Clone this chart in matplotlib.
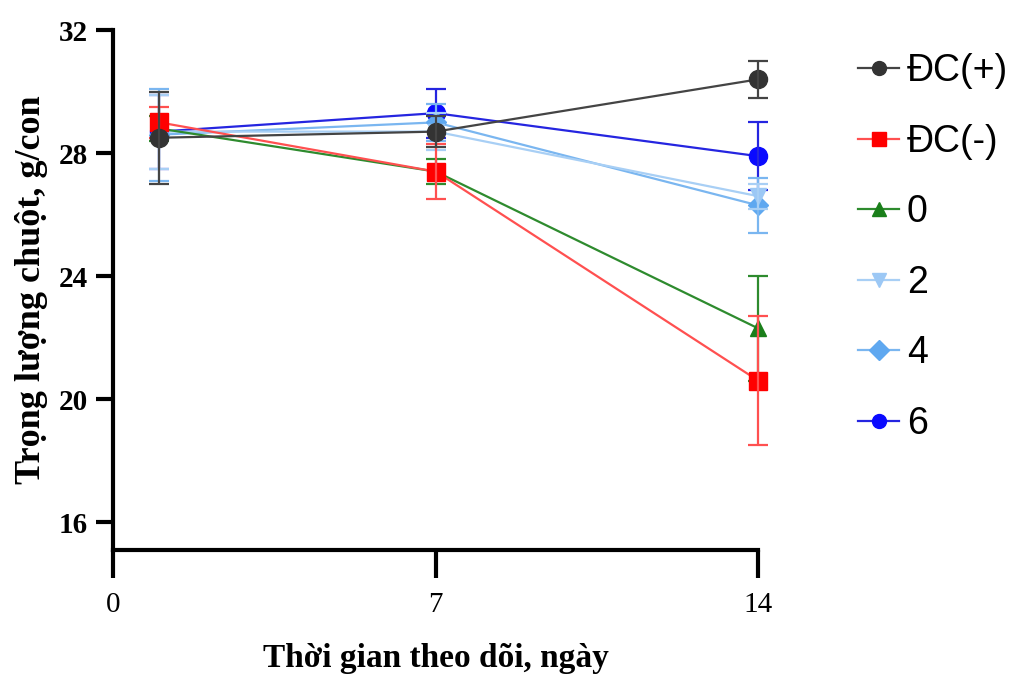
import numpy as np
import matplotlib.pyplot as plt

days = [1, 7, 14]
labels = ['ĐC(+)', 'ĐC(-)', '0', '2', '4', '6']
means = {
    'ĐC(+)': [28.5, 28.7, 30.4],
    'ĐC(-)': [29.0, 27.4, 20.6],
    '0':     [28.8, 27.4, 22.3],
    '2':     [28.7, 28.7, 26.6],
    '4':     [28.6, 29.0, 26.3],
    '6':     [28.7, 29.3, 27.9],
}
errors = {
    'ĐC(+)': [1.5, 0.5, 0.6],
    'ĐC(-)': [0.5, 0.9, 2.1],
    '0':     [0.4, 0.4, 1.7],
    '2':     [1.2, 0.6, 0.4],
    '4':     [1.5, 0.6, 0.9],
    '6':     [1.2, 0.8, 1.1],
}
marker_colors = ['#333333', '#ff0000', '#1a7f1a', '#9cc8f5', '#5fa8f0', '#0a0aff']
line_colors = ['#444444', '#ff5050', '#2e8b2e', '#a8cff5', '#7ab6f0', '#2525e0']
markers = ['o', 's', '^', 'v', 'D', 'o']
msizes = [13, 13, 12, 12, 10, 13]

fig = plt.figure(figsize=(10.29, 6.84), dpi=100)
ax = fig.add_axes([0.110, 0.196, 0.627, 0.760])

n = len(labels)
for i, (lab, mc, lc, mk, ms) in enumerate(zip(labels, marker_colors, line_colors, markers, msizes)):
    cont = ax.errorbar(days, means[lab], yerr=errors[lab], color=lc, ecolor=lc,
                       marker=mk, markersize=ms, markerfacecolor=mc, markeredgecolor=mc,
                       linewidth=1.6, elinewidth=1.6, capsize=7, capthick=1.6, label=lab)
    for art in [cont[0], *cont[1], *cont[2]]:
        art.set_clip_on(False)
        art.set_zorder(10 + n - i)

ax.set_xlim(0, 14)
ax.set_ylim(15.1, 32)
ax.set_xticks([0, 7, 14])
ax.set_yticks([16, 20, 24, 28, 32])
for s in ['top', 'right']:
    ax.spines[s].set_visible(False)
for s in ['left', 'bottom']:
    ax.spines[s].set_linewidth(3)
ax.tick_params(axis='x', length=20, width=3, pad=10)
ax.tick_params(axis='y', length=12, width=3, pad=6)
for t in ax.get_xticklabels():
    t.set_fontfamily('Liberation Serif')
    t.set_fontsize(21)
for t in ax.get_yticklabels():
    t.set_fontfamily('Liberation Serif')
    t.set_fontsize(21)
    t.set_fontweight('bold')

ax.set_xlabel('Thời gian theo dõi, ngày', fontfamily='Liberation Serif',
              fontsize=24, fontweight='bold', labelpad=18)
ax.set_ylabel('Trọng lượng chuột, g/con', fontfamily='Liberation Serif',
              fontsize=26, fontweight='bold', labelpad=8)

handles, labs = ax.get_legend_handles_labels()
handles = [h[0] for h in handles]
leg = fig.legend(handles, labs, loc='upper left', bbox_to_anchor=(0.834, 0.922),
                 frameon=False, prop={'family': 'Liberation Sans', 'size': 27},
                 labelspacing=0.92, handlelength=1.1, handletextpad=0.2,
                 borderpad=0, borderaxespad=0)
for h in leg.legend_handles:
    h.set_markersize(10)

fig.savefig('out.png', dpi=100)
